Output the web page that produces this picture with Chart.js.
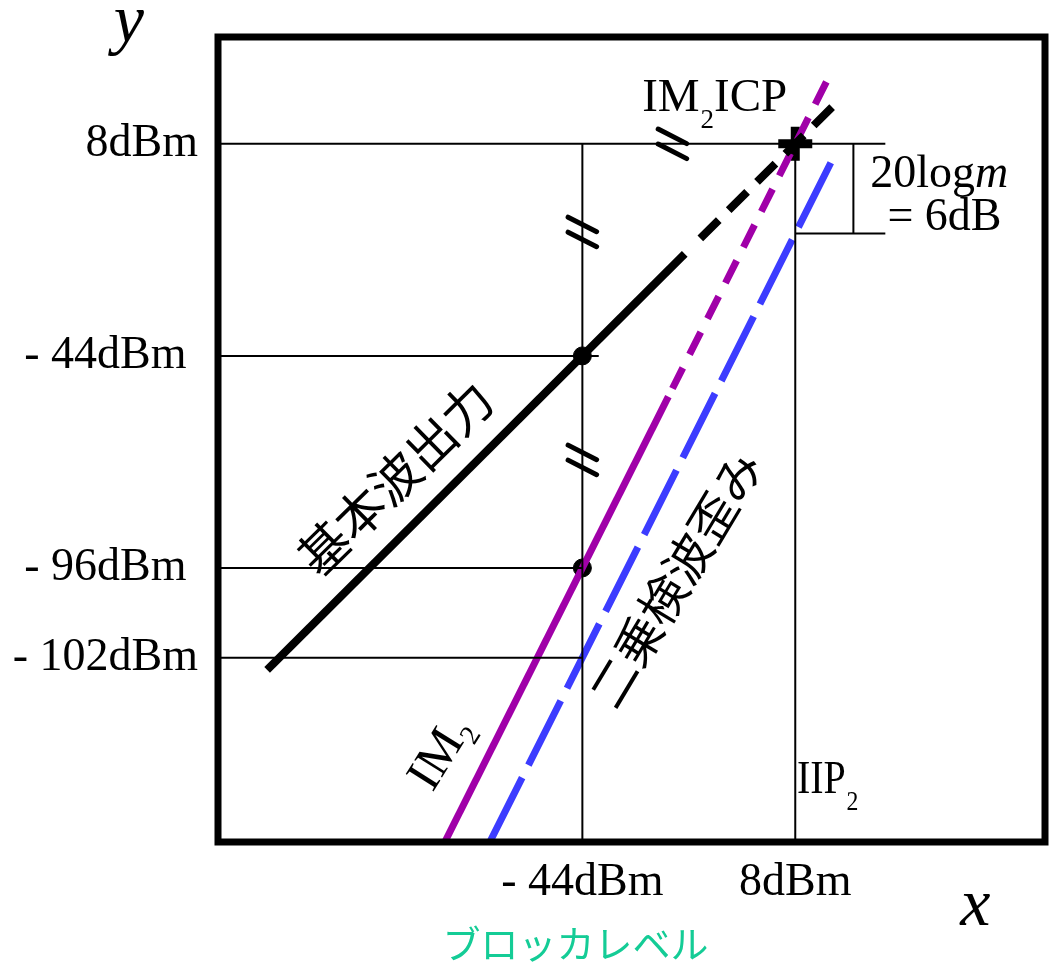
<!DOCTYPE html>
<html lang="ja">
<head>
<meta charset="utf-8">
<title>IM2 ICP</title>
<script src="https://cdn.jsdelivr.net/npm/chart.js@4.4.1/dist/chart.umd.min.js"></script>
<style>
  html, body { margin: 0; padding: 0; background: #fff; }
  canvas { display: block; }
</style>
</head>
<body>
<canvas id="chart" width="1049" height="965"></canvas>
<script>
// tick positions (the diagram is schematic, not to scale)
const xTickValues = [-44, 8];
const xTickLabels = ["- 44dBm", "8dBm"];
const yTickValues = [-118, -96, -44, 8];
const yTickLabels = ["- 102dBm", "- 96dBm ", "- 44dBm ", "8dBm"];

// series as [x, y]
const fundamental = [[-121, -121], [-19, -19]];
const fundamentalExt = [[17, 17], [-17.5, -17.5]];
const im2 = [[-77.6, -163.2], [-23, -54]];
const im2Ext = [[15.6, 23.2], [-22, -52]];
const detected = [[-66.6, -163.2], [17.5, 5]];
const markers = [[-44, -44], [-44, -96]];
const intercept = [[8, 8]];

// thin helper lines
const guides = [
  [[-133, 8], [30, 8]],
  [[-133, -44], [-40, -44]],
  [[-133, -96], [-44, -96]],
  [[-133, -118], [-44, -118]],
  [[-44, 8], [-44, -163.2]],
  [[8, 7], [8, -163.2]],
  [[8, -14], [30, -14]],
  [[22.2, 8], [22.2, -14]],
];

// "//" break marks on the helper lines
const breaks = [[-22, 8], [-44, -13.6], [-44, -69.5]];

const serif = "'Liberation Serif', 'Times New Roman', serif";
const cjk = "'Noto Sans CJK JP', sans-serif";

const pts = (arr) => arr.map(([x, y]) => ({ x, y }));

const line = (data, color, width, dash) => ({
  data: pts(data),
  showLine: true,
  borderColor: color,
  borderWidth: width,
  borderDash: dash || [],
  borderCapStyle: "butt",
  pointRadius: 0,
  pointHoverRadius: 0,
});

// text with a subscript, optional horizontal squeeze
function subText(ctx, main, sub, rest, x, y, size, subSize, drop, sx) {
  ctx.save();
  ctx.translate(x, y);
  ctx.scale(sx || 1, 1);
  ctx.font = size + "px " + serif;
  ctx.fillText(main, 0, 0);
  let w = ctx.measureText(main).width;
  ctx.font = subSize + "px " + serif;
  ctx.fillText(sub, w + 1, drop);
  w += ctx.measureText(sub).width + 1;
  if (rest) {
    ctx.font = size + "px " + serif;
    ctx.fillText(rest, w, 0);
  }
  ctx.restore();
}

function killPadding(scale) {
  scale.paddingTop = 0;
  scale.paddingBottom = 0;
  scale.paddingLeft = 0;
  scale.paddingRight = 0;
}

const annotations = {
  id: "annotations",
  afterDatasetsDraw(chart) {
    const { ctx, chartArea: a, scales } = chart;
    const px = (v) => scales.x.getPixelForValue(v);
    const py = (v) => scales.y.getPixelForValue(v);
    ctx.save();

    // frame
    ctx.strokeStyle = "#000";
    ctx.lineWidth = 7;
    ctx.strokeRect(a.left, a.top, a.right - a.left, a.bottom - a.top);

    // break marks
    ctx.lineWidth = 5;
    ctx.lineCap = "round";
    const ang = 27 * Math.PI / 180;
    const dx = Math.cos(ang) * 16, dy = Math.sin(ang) * 16;
    breaks.forEach(([bx, by]) => {
      const cx = px(bx), cy = py(by);
      [-7.5, 7.5].forEach((off) => {
        ctx.beginPath();
        ctx.moveTo(cx - dx, cy + off - dy);
        ctx.lineTo(cx + dx, cy + off + dy);
        ctx.stroke();
      });
    });

    ctx.fillStyle = "#000";
    ctx.textAlign = "left";
    ctx.textBaseline = "alphabetic";

    subText(ctx, "IM", "2", "ICP", px(-29.4), py(16.1), 47, 27, 17);
    subText(ctx, "IIP", "2", "", px(8.4), py(-151.2), 47, 28, 17, 0.85);

    ctx.font = "46px " + serif;
    ctx.fillText("20log", px(26.3), py(-2.5));
    const w = ctx.measureText("20log").width;
    ctx.font = "italic 46px " + serif;
    ctx.fillText("m", px(26.3) + w, py(-2.5));
    ctx.font = "46px " + serif;
    ctx.fillText("= 6dB", px(30.5), py(-13.1));

    // rotated labels
    const rotated = (text, x, y, deg, font) => {
      ctx.save();
      ctx.translate(px(x), py(y));
      ctx.rotate(deg * Math.PI / 180);
      ctx.font = font;
      ctx.textAlign = "center";
      ctx.textBaseline = "middle";
      ctx.fillText(text, 0, 0);
      ctx.restore();
    };
    rotated("基本波出力", -89.7, -73.9, -44.5, "50px " + cjk);
    rotated("二乗検波歪み", -21.3, -98.7, -59, "48px " + cjk);

    ctx.save();
    ctx.translate(px(-79.4), py(-143.1));
    ctx.rotate(-58 * Math.PI / 180);
    ctx.textBaseline = "middle";
    ctx.font = "50px " + serif;
    const imW = ctx.measureText("IM").width;
    subText(ctx, "IM", "2", "", -imW / 2, 0, 50, 28, 16);
    ctx.restore();

    // axis names
    ctx.textAlign = "center";
    ctx.textBaseline = "alphabetic";
    ctx.font = "italic 68px " + serif;
    ctx.fillText("y", px(-154.8), py(33));
    ctx.fillText("x", px(52), py(-183.6));
    ctx.fillStyle = "#14cc96";
    ctx.textBaseline = "middle";
    ctx.font = "38px " + cjk;
    ctx.fillText("ブロッカレベル", px(-45.7), py(-188));

    ctx.restore();
  },
};

new Chart(document.getElementById("chart"), {
  type: "scatter",
  data: {
    datasets: [
      ...guides.map((g) => line(g, "#000", 2)),
      line(fundamental, "#000", 8),
      line(fundamentalExt, "#000", 8, [26, 14]),
      line(im2, "#a000a8", 7),
      line(im2Ext, "#a000a8", 7, [25, 15]),
      line(detected, "#3c3cff", 7, [72, 14]),
      {
        data: pts(markers),
        pointRadius: 9,
        pointBackgroundColor: "#000",
        pointBorderColor: "#000",
        pointHoverRadius: 9,
      },
      {
        data: pts(intercept),
        pointStyle: "cross",
        pointRadius: 17,
        pointBorderWidth: 9,
        pointBorderColor: "#000",
        pointHoverRadius: 17,
      },
    ],
  },
  options: {
    responsive: false,
    animation: false,
    devicePixelRatio: 1,
    layout: { autoPadding: false, padding: { top: 37, right: 4, left: 0, bottom: 0 } },
    plugins: { legend: { display: false }, tooltip: { enabled: false } },
    scales: {
      x: {
        type: "linear",
        min: -133,
        max: 69,
        grid: { display: false, drawTicks: false },
        border: { display: false },
        afterBuildTicks: (scale) => {
          scale.ticks = xTickValues.map((v) => ({ value: v }));
        },
        afterFit: (scale) => {
          scale.height = 123;
          killPadding(scale);
        },
        ticks: {
          autoSkip: false,
          maxRotation: 0,
          padding: 13,
          color: "#000",
          font: { family: serif, size: 46 },
          callback: (v, i) => xTickLabels[i],
        },
      },
      y: {
        type: "linear",
        min: -163.2,
        max: 34.2,
        grid: { display: false, drawTicks: false },
        border: { display: false },
        afterBuildTicks: (scale) => {
          scale.ticks = yTickValues.map((v) => ({ value: v }));
        },
        afterFit: (scale) => {
          scale.width = 218;
          killPadding(scale);
        },
        ticks: {
          autoSkip: false,
          padding: 20,
          color: "#000",
          font: { family: serif, size: 46 },
          callback: (v, i) => yTickLabels[i],
        },
      },
    },
  },
  plugins: [annotations],
});
</script>
</body>
</html>
